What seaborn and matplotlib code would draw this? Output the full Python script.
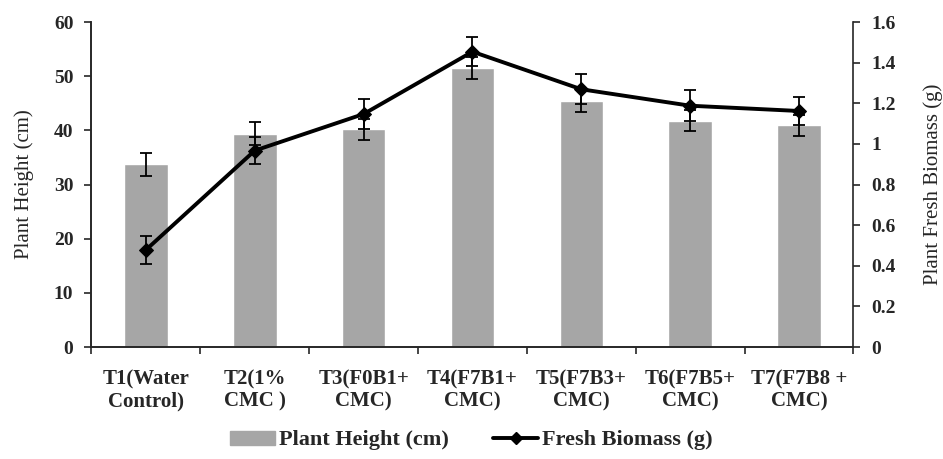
import numpy as np
import pandas as pd
import matplotlib
matplotlib.use("Agg")
import matplotlib.pyplot as plt
from matplotlib.lines import Line2D
from matplotlib.patches import Patch
import seaborn as sns

treatments = ["T1(Water\nControl)", "T2(1%\nCMC )", "T3(F0B1+\nCMC)", "T4(F7B1+\nCMC)",
              "T5(F7B3+\nCMC)", "T6(F7B5+\nCMC)", "T7(F7B8 +\nCMC)"]
height = [33.7, 39.4, 40.2, 51.5, 45.4, 41.8, 40.9]
height_err = [2.1, 2.1, 1.9, 2.0, 2.0, 2.0, 2.0]
biomass = [0.478, 0.967, 1.147, 1.454, 1.269, 1.188, 1.162]
biomass_err = [0.07, 0.067, 0.072, 0.07, 0.075, 0.076, 0.07]
biomass_ticks = ["0", "0.2", "0.4", "0.6", "0.8", "1", "1.2", "1.4", "1.6"]

sns.set_theme(style="ticks")
plt.rcParams["font.family"] = ["Liberation Serif", "DejaVu Serif"]

df = pd.DataFrame({"treatment": treatments, "height": height, "biomass": biomass})
pos = np.arange(len(treatments))

fig, ax = plt.subplots(figsize=(9.43, 4.59), dpi=100)
fig.subplots_adjust(left=0.097, right=0.905, top=0.952, bottom=0.244)

sns.barplot(data=df, x="treatment", y="height", color="#A6A6A6", saturation=1,
            width=0.4, ax=ax)
ax.errorbar(pos, height, yerr=height_err, fmt="none", ecolor="black",
            elinewidth=1.3, capsize=4, capthick=1.3, zorder=4)
ax.set_ylim(0, 60)
ax.set_yticks(range(0, 61, 10))
ax.set_xlim(-0.5, len(treatments) - 0.5)
ax.set_ylabel("Plant Height (cm)", fontsize=15, labelpad=14)
ax.set_xlabel("")
ax.set_xticks(pos)
ax.set_xticklabels(treatments, fontsize=15, fontweight="bold", linespacing=1.15)
ax.tick_params(axis="x", length=0, pad=16)
ax.set_xticks(np.arange(-0.5, len(treatments)), minor=True)
ax.tick_params(axis="x", which="minor", length=5, width=1.2, direction="out")
ax.tick_params(axis="y", length=5, width=1.2, direction="out", labelsize=14, pad=8)
for t in ax.get_yticklabels():
    t.set_fontweight("bold")

ax2 = ax.twinx()
sns.lineplot(x=pos, y=biomass, ax=ax2, color="black", linewidth=2.8,
             marker="D", markersize=7, markeredgecolor="black")
ax2.errorbar(pos, biomass, yerr=biomass_err, fmt="none", ecolor="black",
             elinewidth=1.3, capsize=4, capthick=1.3, zorder=5)
ax2.set_ylim(0, 1.6)
ax2.set_yticks(np.arange(0, 1.61, 0.2))
ax2.set_yticklabels(biomass_ticks, fontweight="bold", fontsize=14)
ax2.set_ylabel("Plant Fresh Biomass (g)", fontsize=15, labelpad=20)
ax2.tick_params(axis="y", length=5, width=1.2, direction="out", pad=8)

for a in (ax, ax2):
    a.spines["top"].set_visible(False)
    for s in ("left", "right", "bottom"):
        a.spines[s].set_linewidth(1.2)
ax.spines["right"].set_visible(False)

handles = [Patch(color="#A6A6A6", label="Plant Height (cm)"),
           Line2D([0], [0], color="black", linewidth=2.8, marker="D", markersize=6,
                  label="Fresh Biomass (g)")]
fig.legend(handles=handles, loc="lower center", ncol=2, frameon=False,
           bbox_to_anchor=(0.5, -0.025), prop={"weight": "bold", "size": 16},
           handlelength=2.0, handleheight=0.6, columnspacing=2.0, handletextpad=0.2)

fig.savefig("out.png", dpi=100)
